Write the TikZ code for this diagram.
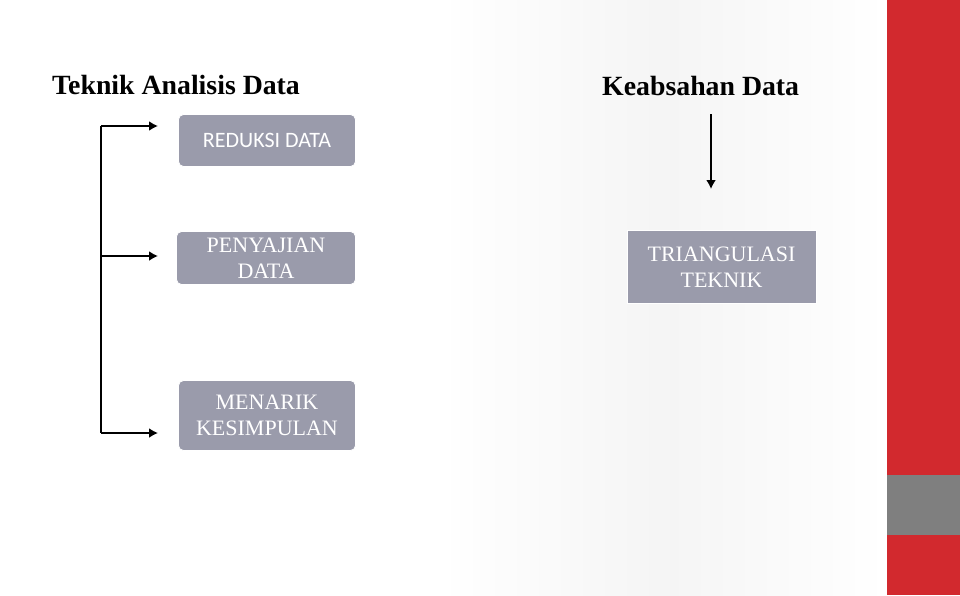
\documentclass[tikz,border=0pt]{standalone}
\usepackage{fontspec}
\setmainfont{Liberation Serif}
\newfontfamily\carl{Carlito}
\usetikzlibrary{arrows.meta}
\definecolor{boxg}{HTML}{9A9BAB}
\definecolor{barred}{HTML}{D2292E}
\definecolor{bargray}{HTML}{7F7F7F}
\begin{document}
\begin{tikzpicture}[x=1pt,y=-1pt,
  bx/.style={fill=boxg,draw=white,line width=0.8pt,rounded corners=5pt,text=white,align=center,font=\fontsize{22}{26}\selectfont},
  arr/.style={line width=2.5pt,-{Latex[length=9pt,width=10pt]}},
  ttl/.style={font=\fontsize{27.8}{30}\selectfont\bfseries,anchor=base west}]
\useasboundingbox (0,0) rectangle (960,595);
\shade[left color=white,right color=white,middle color=black!4] (440,0) rectangle (887,595);
\fill[barred] (887,0) rectangle (960,595);
\fill[bargray] (887,475) rectangle (960,535);
\node[ttl,inner sep=0pt] (t1) at (52,94) {Teknik Analisis Data};
\node[ttl,inner sep=0pt] (t2) at (602,95) {Keabsahan Data};
\node[bx,minimum width=177pt,minimum height=52pt,font=\carl\fontsize{22}{26}\selectfont] (r) at (267,140.5) {REDUKSI DATA};
\node[bx,minimum width=179pt,minimum height=53pt] (p) at (266,258) {PENYAJIAN\\DATA};
\node[bx,minimum width=177pt,minimum height=70pt] (m) at (267,415.5) {MENARIK\\KESIMPULAN};
\node[bx,rounded corners=0pt,minimum width=189pt,minimum height=73pt] (tr) at (721.5,267) {TRIANGULASI\\TEKNIK};
\coordinate (a1) at (101,126);
\coordinate (a2) at (101,256);
\coordinate (a3) at (101,433);
\draw[line width=2.5pt] (a1) -- (a3);
\draw[arr] (a1) -- (158,126);
\draw[arr] (a2) -- (158,256);
\draw[arr] (a3) -- (158,433);
\coordinate (d1) at (711,114);
\draw[arr] (d1) -- (711,189);
\end{tikzpicture}
\end{document}
